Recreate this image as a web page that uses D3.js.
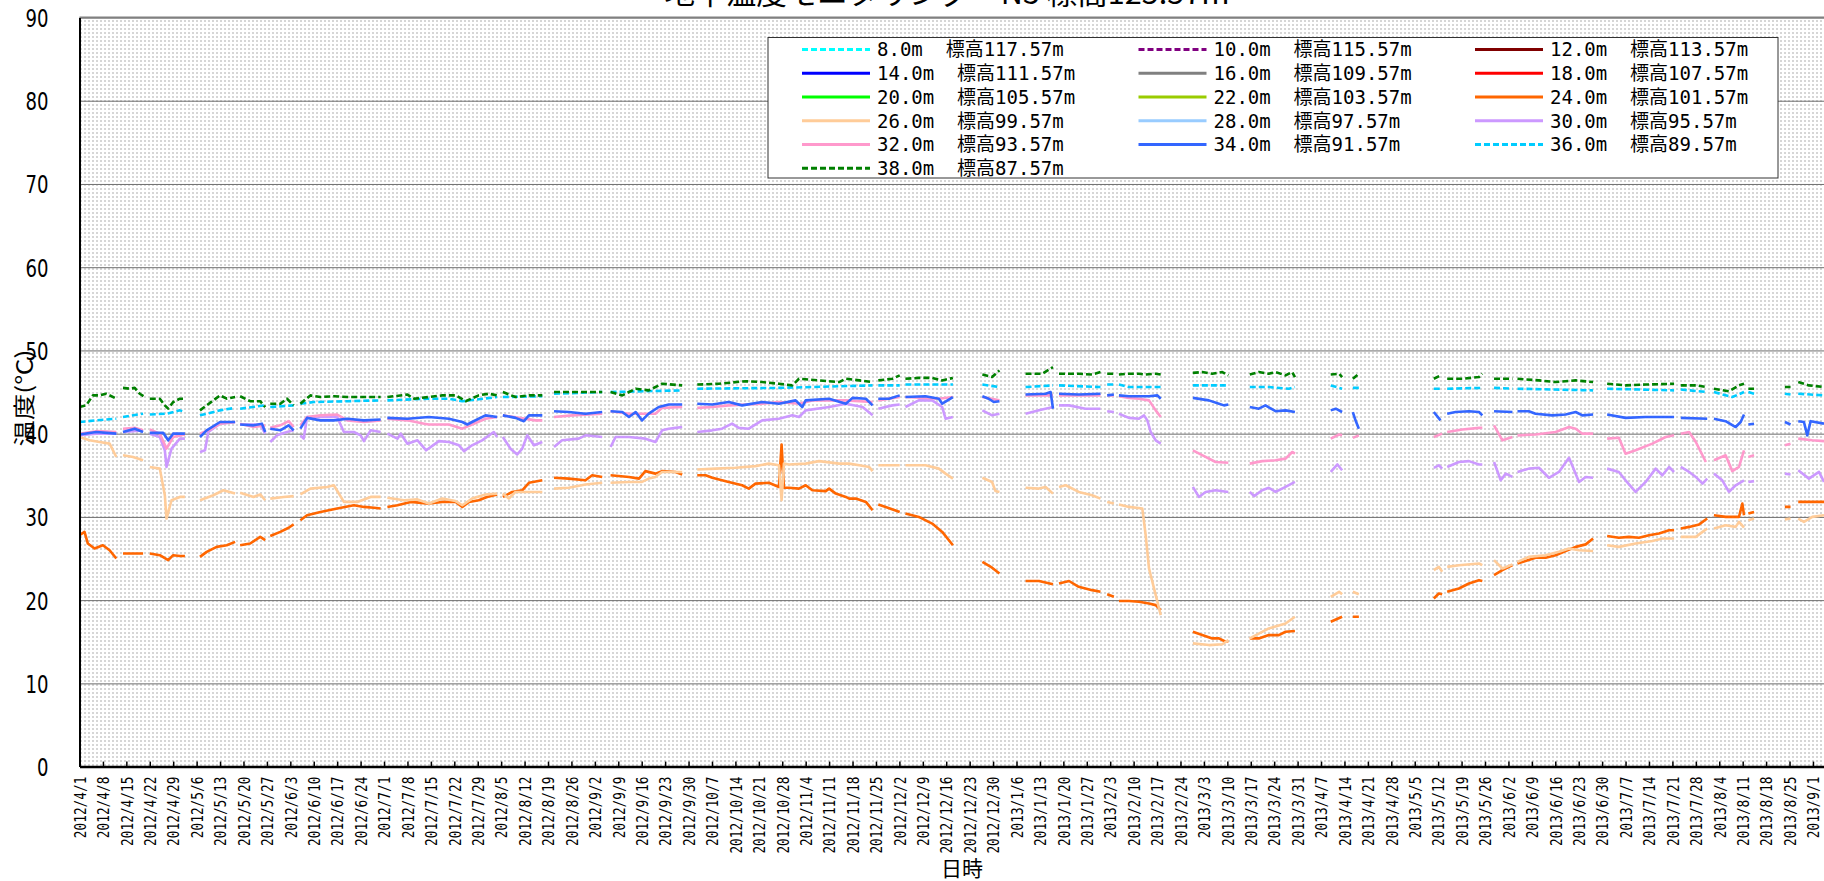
<!DOCTYPE html>
<html>
<head>
<meta charset="utf-8">
<script src="https://cdn.jsdelivr.net/npm/d3@7"></script>
<style>
  body { margin: 0; background: #fff; }
</style>
</head>
<body>
<div id="vis"></div>
<script>
// 観測開始日 (day 0)
const START = new Date(2012, 3, 1);
const LAST_DAY = 521.3; // 右端で切れている位置

const depths = ["8.0", "10.0", "12.0", "14.0", "16.0", "18.0", "20.0", "22.0",
  "24.0", "26.0", "28.0", "30.0", "32.0", "34.0", "36.0", "38.0"];
const elevations = ["117.57", "115.57", "113.57", "111.57", "109.57", "107.57", "105.57", "103.57",
  "101.57", "99.57", "97.57", "95.57", "93.57", "91.57", "89.57", "87.57"];
const yTicks = [0, 10, 20, 30, 40, 50, 60, 70, 80, 90];

// [経過日数, 温度] 、null は欠測
const temp24 = [[0,27.8],[1.5,28.2],[2.5,26.8],[4.5,26.2],[7,26.6],[9,26.0],[11,25.0],null,
  [13,25.6],[16,25.6],[19,25.6],null,[21,25.6],[24,25.4],[26.5,24.8],[28,25.4],[30,25.3],[31.5,25.3],null,
  [36,25.2],[38,25.8],[41,26.4],[44,26.6],[46.5,27.0],null,[48,26.6],[51,26.8],[54,27.6],[55.5,27.2],null,
  [57,27.7],[60,28.2],[62.5,28.7],[64,29.1],null,[66,29.6],[68,30.2],[72,30.6],[77,31.0],[82,31.4],[85,31.2],[88,31.1],[90,31.0],null,
  [92,31.2],[95,31.4],[99,31.8],[104.4,31.6],[108.4,31.8],[112.4,31.8],[114.4,31.2],[116.4,31.8],[119.3,32.0],[121.8,32.4],[124.8,32.7],null,
  [126.5,32.4],[129.3,33.0],[132.3,33.2],[134.3,34.1],[138.3,34.4],null,
  [141.8,34.7],[146.2,34.6],[151.2,34.4],[153.2,35.0],[156.2,34.8],null,
  [158.7,35.0],[164.2,34.8],[167.2,34.6],[169.1,35.5],[172.1,35.2],[174.1,35.5],[178.1,35.4],[180.1,35.1],null,
  [184.6,35.0],[187.1,35.0],[189.1,34.7],[194,34.2],[198,33.8],[200,33.4],[202,34.0],[206,34.1],[209,33.6],[209.8,38.7],[210.5,33.5],
  [212,33.5],[215,33.4],[217,33.8],[219,33.2],[223,33.1],[224,33.4],[226,32.8],[229,32.4],[230,32.2],[232,32.2],[235,31.8],[237,30.8],null,
  [238.7,31.5],[240.9,31.2],[245.1,30.6],null,[246.8,30.4],[250.8,30.0],[254.8,29.2],[257.8,28.2],[261,26.6],null,
  [269.8,24.6],[272.7,23.9],[274.9,23.2],null,[282.7,22.3],[286.7,22.3],[290.9,21.9],null,
  [292.7,22.0],[295.7,22.3],[298.6,21.6],[302.6,21.2],[305.1,21.0],null,[307.1,20.7],[309.1,20.4],null,
  [310.6,19.9],[313.6,19.9],[316.6,19.8],[319.6,19.6],[321.6,19.4],[323.1,18.8],null,
  [332.7,16.2],[335.5,15.8],[338.5,15.4],[340.5,15.4],[342.5,15.0],[343.3,15.1],null,
  [349.7,15.4],[352.4,15.4],[355.4,15.8],[358.4,15.8],[360.4,16.2],[363.2,16.3],null,
  [373.9,17.4],[377.3,18.0],null,[380.5,18.0],[382.3,18.0],null,[404.7,20.2],[406.2,20.8],[407.2,20.7],null,
  [408.7,21.0],[412.2,21.4],[415.2,22.0],[418.2,22.4],[419.2,22.3],null,[422.7,23.0],[425.2,23.6],[428.2,24.2],null,
  [429.7,24.4],[432.1,24.7],[435.1,25.1],[438.1,25.1],[441.1,25.4],[444.1,25.9],[447.1,26.4],[450.1,26.7],[452.3,27.4],null,
  [456.5,27.7],[460,27.5],[463,27.6],[466,27.5],[469,27.8],[472,28.0],[475,28.4],[476.5,28.4],null,
  [478.5,28.6],[481,28.8],[484,29.1],[486.4,29.8],null,[488.4,30.2],[491.9,30.0],[495.9,30.0],[496.9,31.6],[497.4,30.2],null,
  [498.7,30.4],[500.4,30.6],null,[509.6,31.2],[511.3,31.2],null,[513.6,31.8],[517.8,31.8],[521.3,31.8]];

const temp26 = [[0,39.6],[3,39.2],[6,39.0],[9,38.8],[11,37.2],null,[13,37.4],[16,37.2],[19,36.8],null,
  [21,36.0],[24,35.8],[25.5,32.6],[26,29.8],[27.5,32.0],[30,32.4],[31.5,32.4],null,
  [36,32.0],[40,32.6],[43,33.2],[46.5,32.8],null,[48,32.9],[52,32.4],[54,32.7],[55.5,32.0],null,
  [57,32.2],[61,32.4],[64,32.5],null,[66,32.7],[69,33.4],[74,33.6],[76,33.8],[79,31.8],[83,31.8],[87,32.4],[90,32.4],null,
  [92,32.3],[97,32.0],[101,32.1],[104.4,31.6],[108.4,32.2],[112.4,31.9],[114.4,31.4],[117.3,32.2],[121.3,32.7],[124.8,32.8],null,
  [126.5,32.8],[128.3,32.2],[130.3,33.0],[134.3,33.0],[138.3,33.0],null,[141.8,33.4],[146.2,33.5],[151.2,33.9],[156.2,34.1],null,
  [158.7,34.1],[164.2,34.2],[168.1,34.2],[170.1,34.6],[172.1,34.8],[174.1,35.4],[180.1,35.4],null,
  [184.6,35.7],[190.1,35.8],[196,35.9],[202,36.1],[206,36.4],[209,36.2],[209.8,32.0],[210.5,36.4],[212,36.3],[217,36.4],
  [221,36.7],[227,36.4],[230,36.4],[233,36.2],[236,36.0],[237,35.5],null,[238.7,36.2],[245.1,36.2],null,
  [246.8,36.2],[252.8,36.2],[256.8,35.8],[258.8,35.2],[261,34.6],null,[269.8,34.7],[272.7,34.2],[273.7,33.1],[274.9,33.0],null,
  [282.7,33.5],[286.7,33.4],[288.7,33.6],[290.9,32.8],null,[292.7,33.6],[294.7,33.8],[298.6,33.0],[302.6,32.6],[305.1,32.2],null,
  [307.1,31.8],[309.1,31.6],null,[310.6,31.5],[313.6,31.2],[317.6,31.0],[318.6,27.8],[319.6,23.8],[321.6,20.6],[323.1,18.2],null,
  [332.7,14.8],[337.5,14.6],[341.5,14.7],[343.3,15.2],null,[349.7,15.4],[355.4,16.6],[360.4,17.2],[363.2,18.0],null,
  [373.9,20.4],[376.4,21.0],[377.3,20.7],null,[380.5,21.0],[382.3,20.7],null,[404.7,23.6],[406.2,24.0],[407.2,23.4],null,
  [408.7,24.0],[412.2,24.2],[418.2,24.4],[419.2,24.2],null,[422.7,24.8],[425.2,23.8],[428.2,24.3],null,
  [429.7,24.6],[433.1,25.2],[438.1,25.4],[442.1,25.8],[445.1,26.2],[448.1,26.0],[452.3,25.9],null,
  [456.5,26.6],[460,26.4],[465,26.8],[470,27.1],[473,27.4],[476.5,27.4],null,[478.5,27.6],[483,27.6],[485,28.2],[486.4,28.6],null,
  [488.4,28.6],[491.9,29.0],[494.9,28.8],[495.9,29.4],[497.4,28.7],null,[498.7,29.6],[500.4,29.8],null,
  [509.6,29.7],[511.3,29.8],null,[513.6,29.8],[515.3,29.4],[517.8,30.0],[521.3,30.2]];

const temp30 = [[0,39.8],[5,40.0],[11,40.0],null,[13,40.2],[19,40.4],null,
  [21,40.0],[24,39.6],[25.5,38.0],[26,36.0],[27.5,38.2],[30,39.4],[31.5,39.4],null,
  [36,37.8],[37.5,38.0],[38.5,40.2],[42,41.2],[46.5,41.4],null,[48,41.1],[54,41.1],[55.5,40.0],null,
  [57,39.0],[59,39.8],[62,40.2],[64,40.4],null,
  [66,39.8],[67,39.4],[68,42.0],[72,42.0],[77,42.0],[79,40.2],[82,40.2],[84,39.8],[85,39.1],[87,40.4],[90,40.2],null,
  [92,40.0],[95,39.4],[96,40.0],[98,38.8],[101,39.2],[103.6,38.0],[107.4,39.1],[110.4,39.0],[113.4,38.6],[114.9,37.9],
  [117.3,38.6],[120.3,39.2],[123.8,40.2],[124.8,39.6],null,
  [126.5,39.6],[128.8,38.2],[130.8,37.5],[132.3,38.2],[133.8,39.8],[135.8,38.6],[138.3,39.0],null,
  [141.8,38.4],[144.2,39.2],[149.2,39.4],[151.2,39.8],[156.2,39.6],null,
  [158.7,38.4],[160.2,39.6],[164.2,39.6],[169.1,39.4],[172.1,39.0],[174.1,40.4],[176.1,40.6],[178.1,40.7],[180.1,40.8],null,
  [184.6,40.2],[189.1,40.4],[192,40.6],[195,41.2],[197,40.7],[200,40.6],[204,41.6],[209,41.8],[213,42.2],[215,42.0],
  [217,42.8],[224,43.2],[229,43.6],[234,43.2],[237,42.2],null,[238.7,43.0],[242.9,43.4],[245.1,43.5],null,
  [246.8,43.2],[250.8,44.0],[254.8,44.0],[257.8,43.2],[258.8,41.8],[261,42.0],null,
  [269.8,42.8],[272.7,42.2],[274.9,42.4],null,[282.7,42.4],[286.7,42.8],[290.9,43.2],null,
  [292.7,43.4],[295.7,43.4],[300.6,43.0],[305.1,43.0],null,[307.1,42.7],[309.1,42.6],null,
  [310.6,42.4],[313.6,41.9],[316.6,41.8],[318.1,42.2],[319.1,41.6],[320.1,40.2],[321.6,39.2],[323.1,38.8],null,
  [332.7,33.6],[334.5,32.4],[336.5,33.0],[339.5,33.2],[343.3,33.0],null,
  [349.7,33.0],[351,32.5],[353.4,33.2],[355.4,33.5],[357.4,33.0],[360.4,33.6],[363.2,34.2],null,
  [373.9,35.4],[375.9,36.3],[377.3,35.6],null,[404.7,35.9],[406.2,36.2],[407.2,35.8],null,
  [408.7,36.0],[412.2,36.6],[415.2,36.7],[418.2,36.3],[419.2,36.3],null,[422.7,36.6],[424.7,34.4],[426.2,35.2],[428.2,34.8],null,
  [429.7,35.4],[433.1,35.8],[436.1,35.9],[439.1,34.7],[442.1,35.4],[445.1,37.1],[448.1,34.2],[450.1,34.8],[452.3,34.7],null,
  [456.5,35.8],[460,35.4],[462,34.4],[465,33.0],[468,34.2],[471,35.8],[473,35.0],[475,36.0],[476.5,35.4],null,
  [478.5,36.0],[481,35.4],[483,34.8],[485,34.0],[486.4,34.6],null,[488.4,35.2],[490.9,34.4],[492.9,33.0],[494.9,33.8],[497.4,34.4],null,
  [498.7,34.2],[500.4,34.3],null,[509.6,35.2],[511.3,35.1],null,[513.6,35.6],[516.8,34.6],[519.8,35.4],[521.3,34.2]];

const temp32 = [[0,40.0],[5,40.3],[11,40.2],null,[13,40.6],[16.5,40.7],[19,40.4],null,
  [21,40.5],[24,40.0],[26,38.2],[28,39.6],[31.5,39.9],null,[36,40.0],[39,40.5],[42,41.2],[46.5,41.4],null,
  [48,41.2],[52,40.8],[55.5,41.0],null,[57,40.7],[60,41.0],[62.5,41.5],[64,40.8],null,
  [66,41.0],[68,42.0],[72,42.2],[77,42.3],[80,41.6],[85,41.4],[90,41.6],null,
  [92,41.8],[98,41.6],[103,41.2],[104.4,41.1],[110.4,41.1],[114.4,40.6],[117.3,41.1],[121.3,41.8],[124.8,42.0],null,
  [126.5,42.2],[131.3,41.9],[136.3,41.6],[138.3,41.6],null,[141.8,42.0],[147.2,42.2],[156.2,42.4],null,
  [158.7,42.7],[164.2,42.4],[172.1,42.4],[174.1,43.1],[180.1,43.2],null,
  [184.6,43.1],[189.1,43.2],[194,43.4],[204,43.6],[209,43.8],[215,43.6],[219,44.0],[229,44.0],[237,43.8],null,
  [238.7,44.0],[245.1,44.4],null,[246.8,44.4],[256.8,44.2],[261,44.4],null,[269.8,44.4],[274.9,44.0],null,
  [282.7,44.6],[290.9,44.6],null,[292.7,44.6],[305.1,44.6],null,[307.1,44.6],[309.1,44.6],null,
  [310.6,44.5],[313.6,44.3],[316.6,44.2],[319.6,44.0],[321.6,42.8],[323.1,42.0],null,
  [332.7,38.0],[336.5,37.2],[339.5,36.6],[343.3,36.5],null,[349.7,36.4],[353.4,36.7],[357.4,36.8],[360.4,37.0],[362.4,37.8],[363.2,37.6],null,
  [373.9,39.4],[376.4,39.9],[377.3,39.8],null,[380.5,39.5],[382.3,39.8],null,[404.7,39.6],[407.2,40.0],null,
  [408.7,40.2],[413.2,40.5],[418.2,40.7],[419.2,40.7],null,[422.7,41.0],[425.2,39.2],[428.2,39.6],null,
  [429.7,39.8],[435.1,39.9],[441.1,40.2],[445.1,40.8],[447.1,40.6],[449.1,40.0],[452.3,40.0],null,
  [456.5,39.4],[460,39.5],[462,37.6],[465,38.0],[470,38.8],[474,39.6],[476.5,39.8],null,
  [478.5,40.0],[481,40.2],[483,39.0],[486,36.6],null,[488.4,36.8],[491.9,37.4],[493.9,35.5],[495.9,36.0],[497.4,38.0],null,
  [498.7,37.2],[500.4,37.4],null,[509.6,38.6],[511.3,38.8],null,[513.6,39.4],[517.8,39.2],[521.3,39.1]];

const temp34 = [[0,39.9],[5,40.2],[11,40.0],null,[13,40.2],[16.5,40.6],[19,40.2],null,
  [21,40.1],[25,40.1],[26.5,39.2],[28,40.0],[31.5,40.0],null,[36,39.6],[38,40.4],[42,41.4],[46.5,41.4],null,
  [48,41.1],[52,41.0],[54.5,41.2],[55.5,40.2],null,[57,40.6],[60,40.4],[62.5,41.0],[64,40.4],null,
  [66,40.6],[68,41.9],[72,41.6],[76,41.6],[80,41.8],[85,41.6],[90,41.7],null,
  [92,41.9],[98,41.8],[104.4,42.0],[110.4,41.8],[114.4,41.4],[115.9,41.1],[117.3,41.4],[121.3,42.2],[124.8,42.0],null,
  [126.5,42.2],[130.3,41.9],[132.8,41.5],[134.3,42.2],[138.3,42.2],null,[141.8,42.7],[146.2,42.6],[151.2,42.4],[156.2,42.6],null,
  [158.7,42.7],[162.2,42.6],[164.2,42.0],[166.2,42.6],[168.1,41.6],[170.1,42.4],[173.1,43.2],[176.1,43.5],[180.1,43.5],null,
  [184.6,43.6],[189.1,43.5],[194,43.8],[198,43.4],[204,43.8],[209,43.6],[214,44.0],[216,43.2],[217,44.0],[224,44.2],
  [229,43.6],[231,44.3],[235,44.2],[237,43.4],null,[238.7,44.2],[241.9,44.2],[245.1,44.6],null,
  [246.8,44.4],[252.8,44.5],[256.8,44.2],[257.8,43.6],[261,44.4],null,[269.8,44.5],[271.7,44.2],[273.2,43.8],[274.9,43.9],null,
  [282.7,44.7],[288.7,44.8],[290.2,45.0],[290.9,43.0],null,[292.7,44.8],[298.6,44.7],[305.1,44.8],null,[307.1,44.6],[309.1,44.7],null,
  [310.6,44.6],[313.6,44.5],[319.6,44.5],[322.1,44.6],[323.1,44.2],null,
  [332.7,44.3],[337.5,44.0],[340.5,43.6],[342,43.4],[343.3,43.5],null,
  [349.7,43.2],[352.4,43.0],[354.4,43.4],[357.4,42.7],[360.4,42.8],[363.2,42.6],null,
  [373.9,42.8],[375.4,43.0],[377.3,42.6],null,[380.5,42.6],[381.3,41.6],[382.3,40.6],null,[404.7,42.6],[406.7,41.6],null,
  [408.7,42.4],[411.2,42.6],[415.2,42.7],[418.2,42.6],[419.2,42.2],null,[422.7,42.7],[428.2,42.6],null,
  [429.7,42.7],[433.1,42.7],[435.1,42.4],[440.1,42.2],[444.1,42.3],[447.1,42.6],[449.1,42.2],[452.3,42.3],null,
  [456.5,42.3],[462,41.9],[468,42.0],[476.5,42.0],null,[478.5,41.9],[486.4,41.8],null,
  [488.4,41.8],[491.9,41.5],[494.9,40.8],[496.4,41.4],[497.4,42.3],null,[498.7,41.1],[500.4,41.2],null,
  [509.6,41.4],[511.3,41.1],null,[513.6,41.5],[515.3,41.4],[516.3,39.8],[517.3,41.5],[521.3,41.2]];

const temp36 = [[0,41.4],[5,41.6],[11,41.8],null,[13,42.0],[19,42.4],null,[21,42.3],[26,42.4],[30,42.8],[31.5,42.6],null,
  [36,42.2],[42,42.8],[46.5,43.1],null,[48,43.0],[55.5,43.4],null,[57,43.2],[64,43.4],null,
  [66,43.6],[70,43.8],[80,43.9],[90,44.0],null,[92,44.0],[104.4,44.2],[110.4,44.2],[114.4,43.9],[124.8,44.4],null,
  [126.5,44.4],[138.3,44.5],null,[141.8,44.8],[156.2,45.0],null,[158.7,45.0],[180.1,45.2],null,
  [184.6,45.4],[209,45.5],[237,45.8],null,[238.7,45.8],[245.1,45.8],null,[246.8,45.9],[261,45.9],null,
  [269.8,45.9],[274.9,45.6],null,[282.7,45.6],[290.9,45.8],null,[292.7,45.8],[305.1,45.6],null,[307.1,45.9],[309.1,45.9],null,
  [310.6,45.9],[313.6,45.6],[323.1,45.6],null,[332.7,45.8],[343.3,45.8],null,[349.7,45.6],[355.4,45.6],[361.4,45.4],[363.2,45.6],null,
  [373.9,45.8],[377.3,45.4],null,[380.5,45.5],[382.3,45.5],null,[404.7,45.4],[407.2,45.4],null,[408.7,45.4],[419.2,45.5],null,
  [422.7,45.5],[428.2,45.4],null,[429.7,45.4],[452.3,45.2],null,[456.5,45.4],[476.5,45.2],null,[478.5,45.3],[486.4,45.0],null,
  [488.4,45.0],[493.9,44.4],[497.4,45.0],null,[498.7,45.0],[500.4,44.8],null,[509.6,44.8],[511.3,44.7],null,[513.6,44.8],[521.3,44.6]];

const temp38 = [[0,43.2],[2,43.4],[4,44.6],[6,44.6],[8,44.8],[11,44.2],null,[13,45.5],[15,45.4],[16.5,45.5],[18,44.8],[19.5,44.4],null,
  [21,44.2],[24,44.2],[25.5,43.4],[26.5,43.0],[28,43.8],[30,44.2],[31.5,44.2],null,
  [36,42.8],[38,43.4],[42,44.6],[44,44.2],[46.5,44.4],null,[48,44.5],[51,43.9],[54,43.9],[55.5,43.2],null,
  [57,43.6],[60,43.6],[62,44.2],[64,43.4],null,[66,43.6],[69,44.6],[72,44.4],[76,44.5],[80,44.4],[85,44.4],[90,44.4],null,
  [92,44.4],[98,44.7],[100,44.2],[104.4,44.4],[108.4,44.6],[112.4,44.6],[115.4,43.9],[119.3,44.6],[122.3,44.8],[124.8,44.6],null,
  [126.5,45.0],[130.3,44.4],[134.3,44.6],[138.3,44.6],null,[141.8,45.0],[147.2,45.0],[151.2,45.0],[156.2,45.0],null,
  [158.7,45.0],[162.2,44.6],[166.2,45.4],[170.1,45.2],[174.1,46.0],[180.1,45.8],null,
  [184.6,45.9],[191.1,46.0],[199,46.3],[204,46.2],[209,46.0],[213,45.8],[215,46.6],[221,46.4],[227,46.2],[229,46.6],[233,46.4],[237,46.2],null,
  [238.7,46.4],[242.9,46.6],[245.1,47.0],null,[246.8,46.6],[250.8,46.7],[254.8,46.7],[257.8,46.4],[261,46.7],null,
  [269.8,47.1],[272.7,46.8],[274.9,47.6],null,[282.7,47.2],[287.7,47.2],[290.9,48.0],null,
  [292.7,47.2],[298.6,47.2],[302.6,47.1],[305.1,47.4],null,[307.1,47.2],[309.1,47.2],null,
  [310.6,47.1],[313.6,47.2],[316.6,47.2],[318.6,47.1],[321.6,47.2],[323.1,47.1],null,
  [332.7,47.3],[335.5,47.4],[338.5,47.2],[341.5,47.4],[343.3,47.0],null,
  [349.7,47.1],[352.4,47.4],[355.4,47.2],[357.4,47.4],[360.4,47.0],[362.4,47.4],[363.2,46.8],null,
  [373.9,47.1],[376.4,47.2],[377.3,46.8],null,[380.5,46.6],[382.3,47.2],null,[404.7,46.6],[406.7,47.0],null,
  [408.7,46.6],[413.2,46.6],[418.2,46.8],[419.2,47.2],null,[422.7,46.6],[428.2,46.6],null,
  [429.7,46.6],[436.1,46.4],[441.1,46.2],[447.1,46.4],[452.3,46.2],null,[456.5,46.0],[462,45.8],[468,45.9],[476.5,46.0],null,
  [478.5,45.8],[483,45.8],[486.4,45.6],null,[488.4,45.4],[492.9,45.1],[495.9,45.8],[497.4,46.0],null,
  [498.7,45.4],[500.4,45.4],null,[509.6,45.6],[511.3,45.6],null,[513.6,46.2],[516.8,45.8],[521.3,45.6]];

// 凡例の順番に対応 (データの無い深度は空)
const seriesValues = [[], [], [], [], [], [], [], [], temp24, temp26, [], temp30, temp32, temp34, temp36, temp38];

const colors = ["#00ffff", "#800080", "#800000", "#0000ff", "#808080", "#ff0000", "#00ff00", "#99cc00",
  "#ff6600", "#ffcc99", "#99ccff", "#cc99ff", "#ff99cc", "#3366ff", "#00ccff", "#008000"];
const dashed = [true, true, false, false, false, false, false, false,
  false, false, false, false, false, false, true, true];

const WIDTH = 1824;
const HEIGHT = 881;
const margins = { left: 79.5, top: 17.5, bottom: 766.6 };

const SVG = d3.select("#vis").append("svg").attr("width", WIDTH).attr("height", HEIGHT);

const dayToDate = d => new Date(START.getTime() + d * 864e5);

const x = d3.scaleTime()
  .domain([START, dayToDate(LAST_DAY)])
  .range([margins.left, WIDTH]);
const y = d3.scaleLinear()
  .domain([0, 90])
  .range([margins.bottom, margins.top]);

// 背景のドット模様
const defs = SVG.append("defs");
const pat = defs.append("pattern").attr("id", "dots")
  .attr("width", 4).attr("height", 4).attr("patternUnits", "userSpaceOnUse");
pat.append("rect").attr("width", 4).attr("height", 4).attr("fill", "#ffffff");
pat.append("rect").attr("width", 2).attr("height", 2).attr("fill", "#d6d6d6");

defs.append("clipPath").attr("id", "plotClip").append("rect")
  .attr("x", margins.left).attr("y", margins.top)
  .attr("width", WIDTH - margins.left).attr("height", margins.bottom - margins.top);

SVG.append("rect")
  .attr("x", margins.left).attr("y", margins.top)
  .attr("width", WIDTH - margins.left).attr("height", margins.bottom - margins.top)
  .attr("fill", "url(#dots)");

// 横のグリッド線
SVG.append("g")
  .attr("transform", `translate(${margins.left},0)`)
  .call(d3.axisLeft(y).tickValues(yTicks.slice(1)).tickSize(-(WIDTH - margins.left)).tickFormat(""))
  .call(g => g.select(".domain").remove())
  .call(g => g.selectAll(".tick line").attr("stroke", "#6e6e6e").attr("stroke-width", 1));

SVG.append("line")
  .attr("x1", margins.left).attr("x2", WIDTH)
  .attr("y1", y(90)).attr("y2", y(90))
  .attr("stroke", "#808080").attr("stroke-width", 2);

// データ線
const line = d3.line()
  .defined(d => d !== null)
  .x(d => x(dayToDate(d[0])))
  .y(d => y(d[1]));

const linesG = SVG.append("g").attr("clip-path", "url(#plotClip)");
seriesValues.forEach((vals, i) => {
  if (!vals.length) return;
  linesG.append("path")
    .datum(vals)
    .attr("d", line)
    .attr("fill", "none")
    .attr("stroke", colors[i])
    .attr("stroke-width", 2.6)
    .attr("stroke-linejoin", "round")
    .attr("stroke-dasharray", dashed[i] ? "6,3" : null);
});

// Y軸
SVG.append("g")
  .attr("transform", `translate(${margins.left},0)`)
  .call(d3.axisLeft(y).tickValues(yTicks).tickSize(0).tickPadding(31).tickFormat(d3.format("d")))
  .attr("font-family", "DejaVu Sans")
  .attr("font-size", 25)
  .call(g => g.select(".domain").attr("stroke", "#000").attr("stroke-width", 2))
  .call(g => g.selectAll(".tick text").attr("fill", "#000").attr("dy", "0.36em")
    .each(function () {
      d3.select(this).attr("textLength", this.textContent.length * 11.5).attr("lengthAdjust", "spacingAndGlyphs");
    }));

// X軸 (毎週日曜)
SVG.append("g")
  .attr("transform", `translate(0,${margins.bottom})`)
  .call(d3.axisBottom(x).ticks(d3.timeWeek.every(1)).tickFormat(d3.timeFormat("%Y/%-m/%-d"))
    .tickSizeInner(-5).tickSizeOuter(0))
  .attr("font-family", "DejaVu Sans Mono")
  .attr("font-size", 16)
  .call(g => g.select(".domain").attr("stroke", "#000").attr("stroke-width", 2.5))
  .call(g => g.selectAll(".tick line").attr("stroke", "#000").attr("stroke-width", 1.5))
  .call(g => g.selectAll(".tick text")
    .attr("transform", "rotate(-90)")
    .attr("x", -10).attr("y", 0).attr("dy", "0.36em")
    .attr("text-anchor", "end")
    .attr("fill", "#000")
    .each(function () {
      d3.select(this).attr("textLength", this.textContent.length * 7.7).attr("lengthAdjust", "spacingAndGlyphs");
    }));

// タイトル・軸名
SVG.append("text")
  .attr("x", 947).attr("y", 4)
  .attr("text-anchor", "middle")
  .attr("font-family", "Noto Sans CJK JP").attr("font-size", 30)
  .attr("textLength", 565).attr("lengthAdjust", "spacingAndGlyphs")
  .text("地中温度モニタリング　N5 標高125.57m");

SVG.append("text")
  .attr("transform", "translate(32,398) rotate(-90)")
  .attr("text-anchor", "middle")
  .attr("font-family", "Noto Sans CJK JP").attr("font-size", 22)
  .attr("textLength", 97).attr("lengthAdjust", "spacingAndGlyphs")
  .text("温度(℃)");

SVG.append("text")
  .attr("x", 962).attr("y", 876)
  .attr("text-anchor", "middle")
  .attr("font-family", "Noto Sans CJK JP").attr("font-size", 21)
  .text("日時");

// 凡例
const legendG = SVG.append("g").attr("id", "legend");
legendG.append("rect")
  .attr("x", 768).attr("y", 37.5).attr("width", 1010).attr("height", 140.5)
  .attr("fill", "#fff").attr("stroke", "#333").attr("stroke-width", 1);

depths.forEach((dp, i) => {
  const col = i % 3, row = Math.floor(i / 3);
  const lx = 802 + col * 336.5;
  const ly = 49.5 + row * 23.75;
  legendG.append("line")
    .attr("x1", lx).attr("x2", lx + 68).attr("y1", ly).attr("y2", ly)
    .attr("stroke", colors[i]).attr("stroke-width", 3)
    .attr("stroke-dasharray", dashed[i] ? "6,3" : null);
  legendG.append("text")
    .attr("x", lx + 75).attr("y", ly).attr("dy", "0.36em")
    .attr("font-family", "'DejaVu Sans Mono', 'Noto Sans CJK JP'").attr("font-size", 19)
    .attr("xml:space", "preserve")
    .style("white-space", "pre")
    .text(`${dp}m  標高${elevations[i]}m`);
});
</script>
</body>
</html>
